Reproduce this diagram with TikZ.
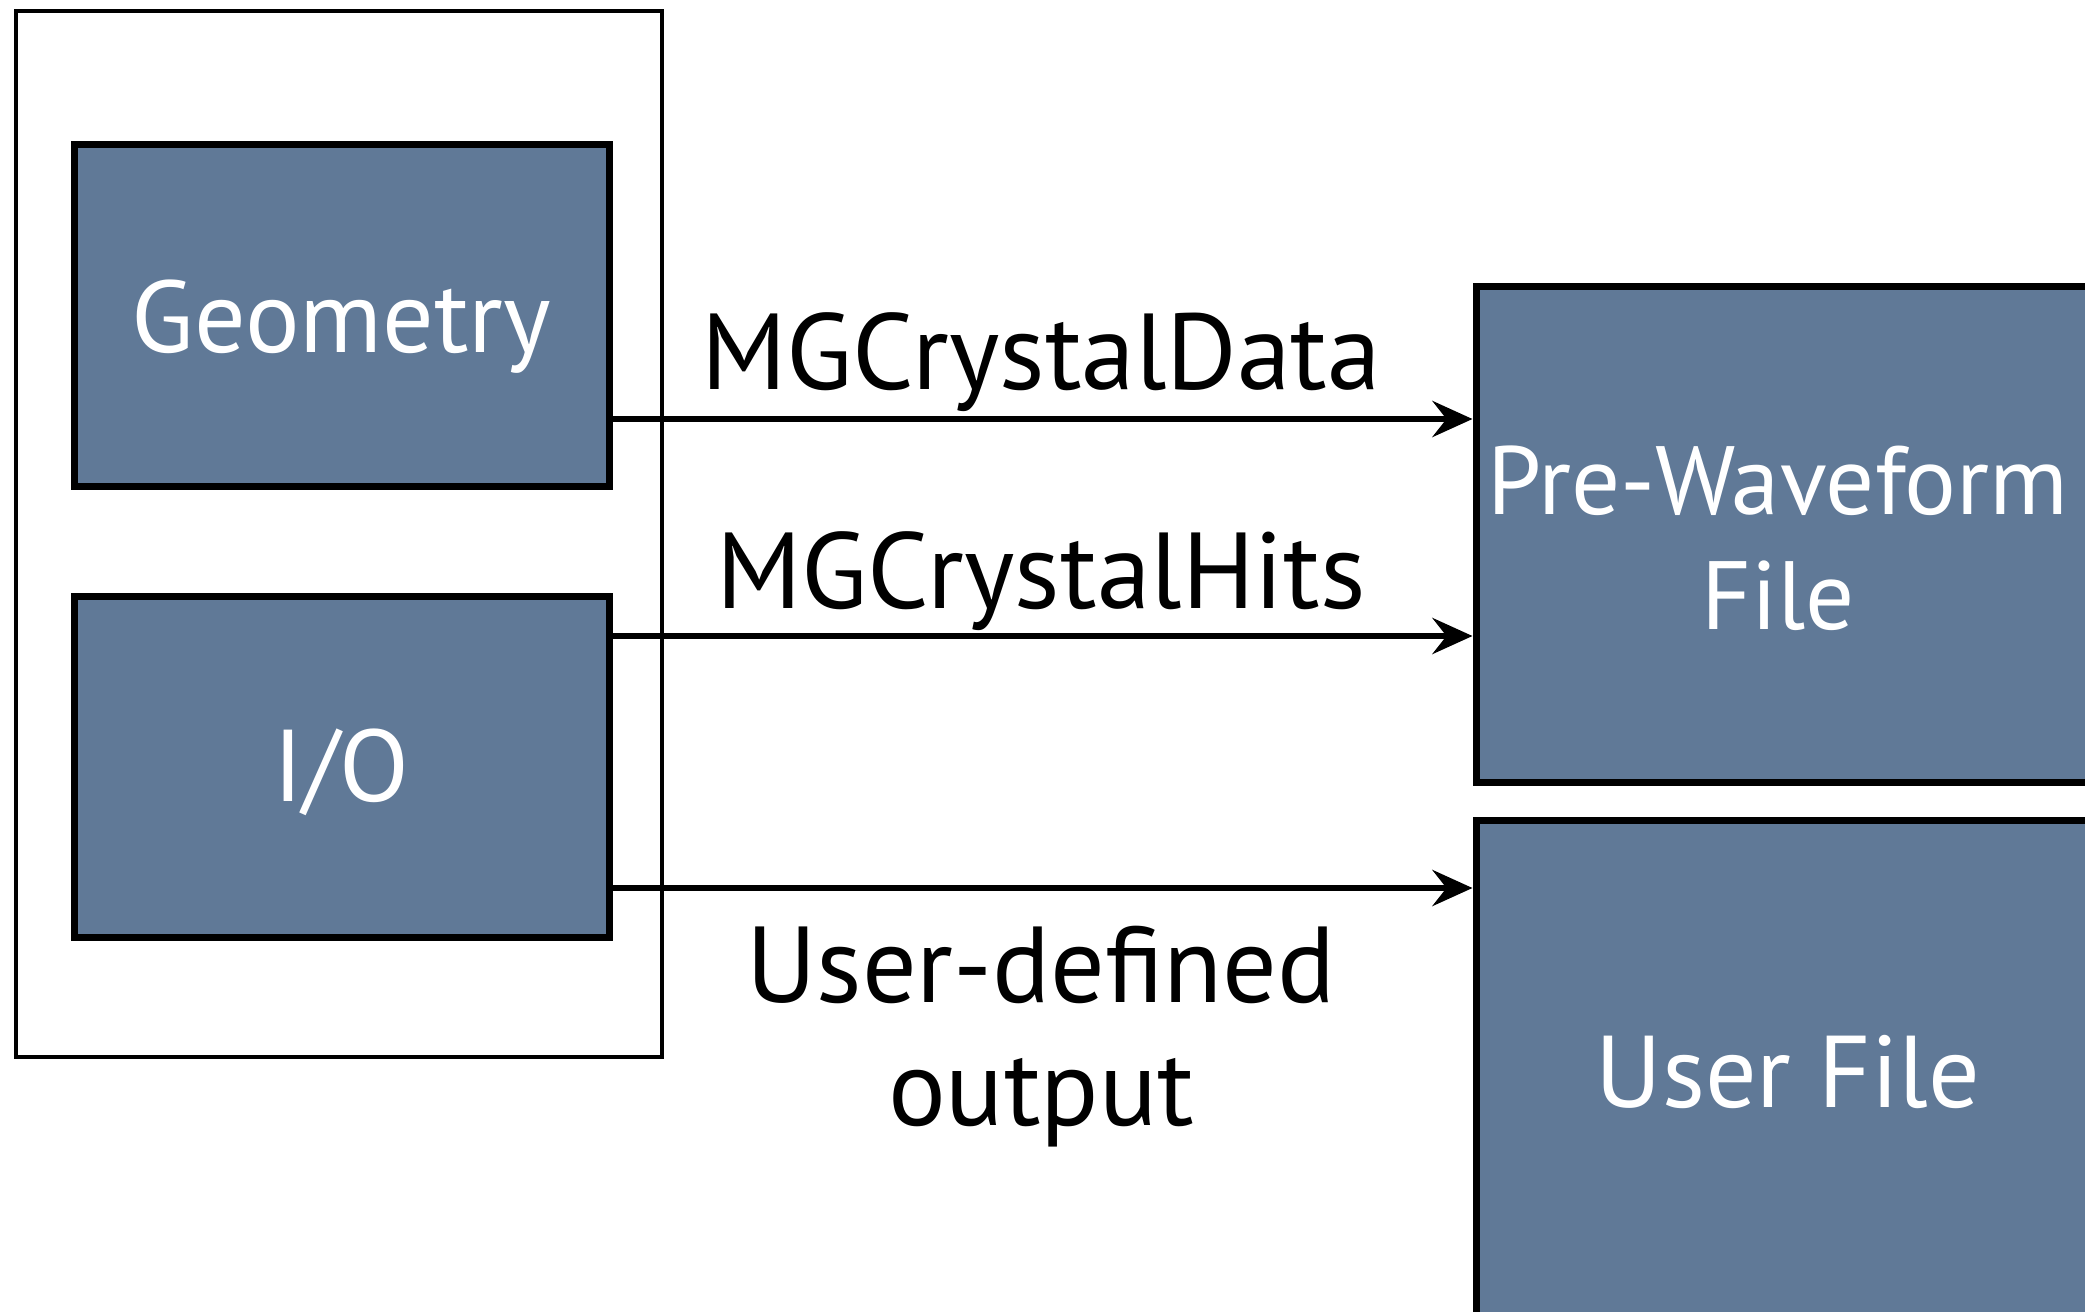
\documentclass[tikz,border=0pt]{standalone}
\usepackage{fontspec}
\setmainfont{PT Sans}
\usetikzlibrary{arrows.meta}
\definecolor{slate}{RGB}{96,121,151}
\begin{document}
\begin{tikzpicture}[x=0.5pt,y=-0.5pt,
  blk/.style={draw=black,line width=3.5pt,fill=slate,inner sep=0pt},
  btxt/.style={text=white,font=\fontsize{51}{57.5}\selectfont,align=center,inner sep=0pt},
  lbl/.style={font=\fontsize{54}{61.5}\selectfont,align=center,text=black,inner sep=0pt},
  arr/.style={line width=3.3pt,-{Stealth[length=20pt,width=18pt,inset=7pt]}}]
\useasboundingbox (0,0) rectangle (2085,1312);
\fill[white] (0,0) rectangle (2085,1312);
% outer frame
\node[draw=black,line width=2pt,minimum width=323pt,minimum height=523pt,inner sep=0pt] (sim) at (339,534) {};
% blocks
\node[blk,minimum width=267.5pt,minimum height=171pt] (geo) at (341.5,315) {};
\node[btxt] (geot) at (341.5,327) {Geometry};
\node[blk,minimum width=267.5pt,minimum height=170.5pt] (io) at (341.5,766.5) {};
\node[btxt] (iot) at (341.5,772) {I/O};
\node[blk,minimum width=312pt,minimum height=248pt] (pw) at (1788,534) {};
\node[btxt,font=\fontsize{48.5}{57.5}\selectfont] (pwt) at (1778,538) {Pre-Waveform\\File};
\node[blk,minimum width=312pt,minimum height=250pt] (uf) at (1788,1070) {};
\node[btxt] (uft) at (1788,1072) {User File};
% arrow heights
\coordinate (a1) at (1000,419);
\coordinate (a2) at (1000,636);
\coordinate (a3) at (1000,888);
\draw[arr] (geo.east |- a1) -- (pw.west |- a1);
\draw[arr] (io.east |- a2) -- (pw.west |- a2);
\draw[arr] (io.east |- a3) -- (uf.west |- a3);
% labels
\node[lbl] (l1) at (1041,362) {MGCrystalData};
\node[lbl] (l2) at (1041,581) {MGCrystalHits};
\node[lbl] (l3) at (1041,1037) {User-defined\\output};
\end{tikzpicture}
\end{document}
